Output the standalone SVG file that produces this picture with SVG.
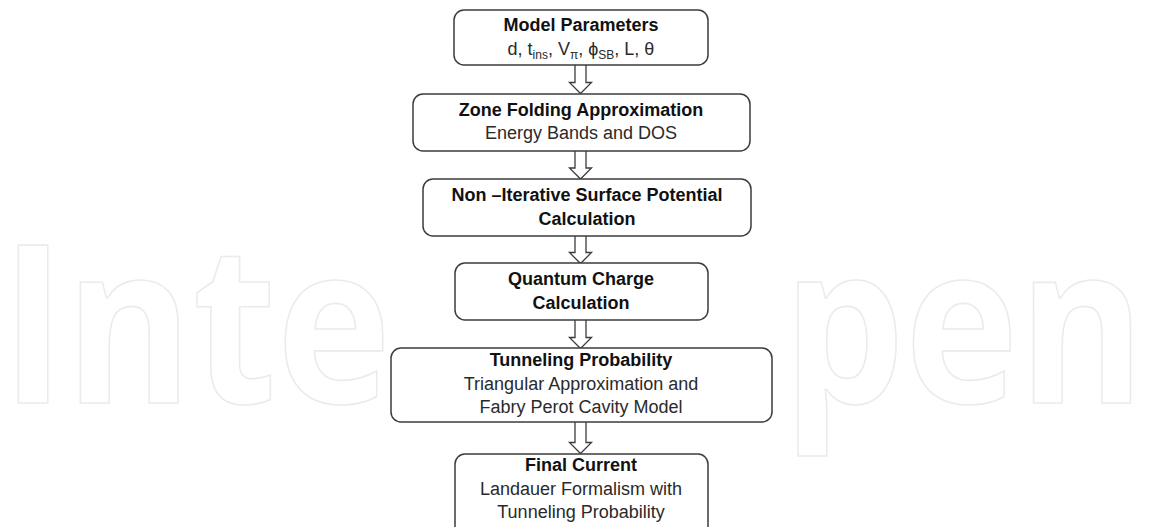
<svg xmlns="http://www.w3.org/2000/svg" width="1150" height="527" viewBox="0 0 1150 527">
  <style>
    .box { fill: #ffffff; stroke: #3c3c3c; stroke-width: 1.5; }
    .arrow { fill: #ffffff; stroke: #3c3c3c; stroke-width: 1.3; stroke-linejoin: miter; }
    .title { font-family: "Liberation Sans", Arial, sans-serif; font-size: 18px; font-weight: bold; fill: #111111; text-anchor: middle; }
    .body { font-family: "Liberation Sans", Arial, sans-serif; font-size: 18px; fill: #2a2a2a; text-anchor: middle; }
    .sub { font-size: 12px; }
    .mark { font-family: "Open Sans", Lato, sans-serif; font-weight: bold; fill: #ffffff; stroke: #ebebeb; stroke-width: 1.6; vector-effect: non-scaling-stroke; }
  </style>

  <rect width="1150" height="527" fill="#ffffff"/>

  <!-- background watermark, only the parts left clear by the boxes -->
  <g id="watermark">
    <text class="mark" transform="translate(1,403) scale(1,1.163)" x="0" y="0" font-size="190" textLength="390" lengthAdjust="spacingAndGlyphs">Inte</text>
    <text class="mark" transform="translate(783,403) scale(1,1.176)" x="0" y="0" font-size="188" textLength="362" lengthAdjust="spacingAndGlyphs">pen</text>
  </g>

  <!-- connectors: hollow block arrows -->
  <g id="connectors">
    <path class="arrow" d="M575,65 V82.5 H569.5 L580.5,93.5 L591.5,82.5 H586 V65"/>
    <path class="arrow" d="M575,151 V168 H569.5 L580.5,179 L591.5,168 H586 V151"/>
    <path class="arrow" d="M575,236 V252.5 H569.5 L580.5,263.5 L591.5,252.5 H586 V236"/>
    <path class="arrow" d="M575,320 V337.5 H569.5 L580.5,348.5 L591.5,337.5 H586 V320"/>
    <path class="arrow" d="M575,422 V442.5 H569.5 L580.5,453.5 L591.5,442.5 H586 V422"/>
  </g>

  <g id="model-parameters">
    <rect class="box" x="454" y="10" width="254" height="55" rx="10"/>
    <text class="title" x="581" y="31">Model Parameters</text>
    <text class="body" x="581" y="55">d, t<tspan class="sub" dy="4">ins</tspan><tspan dy="-4">, V</tspan><tspan class="sub" dy="4">π</tspan><tspan dy="-4">, ϕ</tspan><tspan class="sub" dy="4">SB</tspan><tspan dy="-4">, L, θ</tspan></text>
  </g>

  <g id="zone-folding">
    <rect class="box" x="413" y="94" width="337" height="57" rx="10"/>
    <text class="title" x="581" y="116">Zone Folding Approximation</text>
    <text class="body" x="581" y="139">Energy Bands and DOS</text>
  </g>

  <g id="surface-potential">
    <rect class="box" x="423" y="179" width="328" height="57" rx="10"/>
    <text class="title" x="587" y="201">Non –Iterative Surface Potential</text>
    <text class="title" x="587" y="225">Calculation</text>
  </g>

  <g id="quantum-charge">
    <rect class="box" x="455" y="263" width="253" height="57" rx="10"/>
    <text class="title" x="581" y="285">Quantum Charge</text>
    <text class="title" x="581" y="309">Calculation</text>
  </g>

  <g id="tunneling-probability">
    <rect class="box" x="391" y="348" width="381" height="74" rx="10"/>
    <text class="title" x="581" y="366">Tunneling Probability</text>
    <text class="body" x="581" y="390">Triangular Approximation and</text>
    <text class="body" x="581" y="413">Fabry Perot Cavity Model</text>
  </g>

  <g id="final-current">
    <rect class="box" x="455" y="454" width="253" height="90" rx="10"/>
    <text class="title" x="581" y="471">Final Current</text>
    <text class="body" x="581" y="495">Landauer Formalism with</text>
    <text class="body" x="581" y="518">Tunneling Probability</text>
  </g>
</svg>
